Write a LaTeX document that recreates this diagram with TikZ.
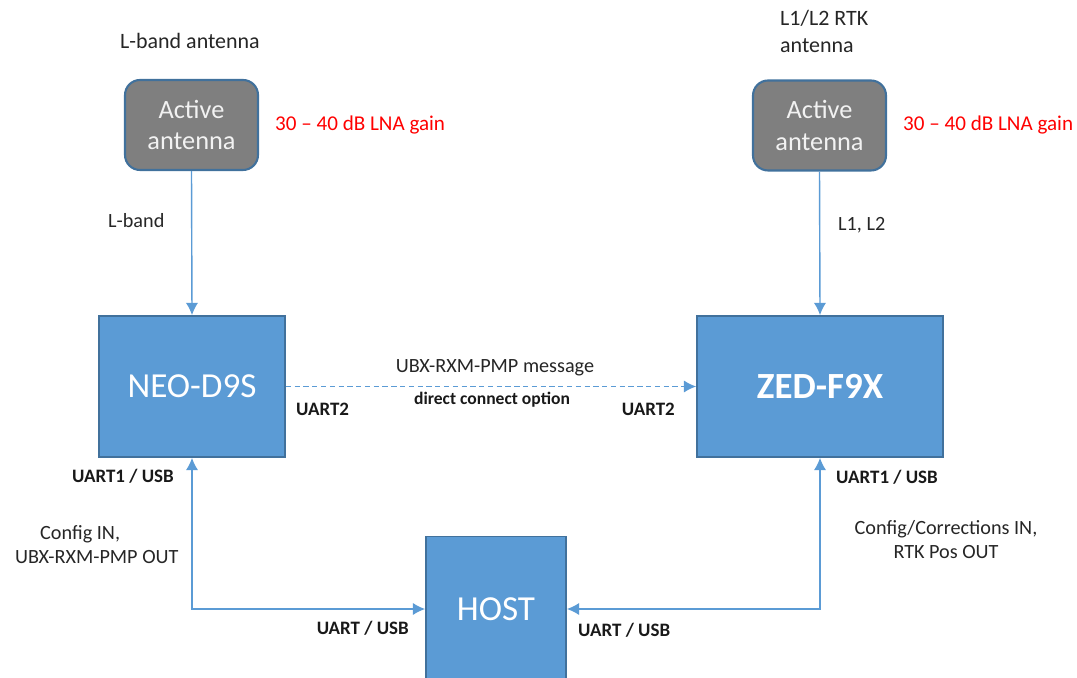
\documentclass[tikz,border=0pt]{standalone}
\usepackage{fontspec}
\setmainfont{Carlito}
\usetikzlibrary{arrows.meta}
\definecolor{boxblue}{HTML}{5B9BD5}
\definecolor{boxedge}{HTML}{41719C}
\definecolor{antgray}{HTML}{7F7F7F}
\tikzset{
	antenna/.style={draw=boxedge, line width=1.2pt, fill=antgray, rounded corners=0.3cm,
		minimum width=2.66cm, minimum height=1.8cm, text=white!95!black, align=center,
		font=\fontsize{15}{18}\selectfont},
	module/.style={draw=boxedge, line width=1pt, fill=boxblue, text=white, minimum height=2.82cm},
	link/.style={draw=boxblue, line width=0.8pt, -{Latex[length=7pt,width=7pt]}},
	both/.style={{Latex[length=7pt,width=7pt]}-{Latex[length=7pt,width=7pt]}},
	lbl/.style={font=\fontsize{11.5}{13.6}\selectfont, text=black!85},
	port/.style={font=\fontsize{10.8}{13}\selectfont\bfseries, text=black!90},
	gain/.style={font=\fontsize{12}{14}\selectfont, text=red, anchor=west},
}

\begin{document}
\begin{tikzpicture}[x=0.02cm, y=-0.02cm]
			\clip (0,0) rectangle (1077,678);
			\node[antenna] (antL) at (191.5,125) {Active\\antenna};
			\node[antenna] (antR) at (819.5,125.5) {Active\\antenna};
			\node[module, minimum width=3.72cm, font=\fontsize{20}{24}\selectfont] (neo) at (192,386.5) {NEO-D9S};
			\node[module, minimum width=4.92cm, font=\fontsize{21}{25}\selectfont\bfseries] (zed) at (820,386.5) {ZED-F9X};
			\node[module, minimum width=2.8cm, minimum height=2.9cm, font=\fontsize{20}{24}\selectfont] (host) at (496,609) {HOST};
			\node[lbl, font=\fontsize{12.5}{15.3}\selectfont] (antLname) at (190,41) {L-band antenna};
			\node[lbl, font=\fontsize{12.5}{15.3}\selectfont, anchor=west, align=left] (antRname) at (774,31.5) {L1/L2 RTK\\antenna};
			\node[gain] (gainL) at (269,125) {30 – 40 dB LNA gain};
			\node[gain] (gainR) at (897,125) {30 – 40 dB LNA gain};
			\node[lbl, anchor=west] (bandL) at (102,221) {L-band};
			\node[lbl, anchor=west] (bandR) at (832,225) {L1, L2};
			\node[lbl] (pmp) at (495,368) {UBX-RXM-PMP message};
			\node[port, font=\fontsize{10}{12}\selectfont\bfseries] (direct) at (492,400) {direct connect option};
			\node[port, anchor=west] (uartL) at (290,409) {UART2};
			\node[port, anchor=east] (uartR) at (681,409) {UART2};
			\node[port, anchor=east] (usbL) at (180,476) {UART1 / USB};
			\node[port, anchor=west] (usbR) at (830,477) {UART1 / USB};
			\node[lbl, align=left, anchor=west] (cfgL) at (9,545) {\hspace*{0.5cm}Config IN,\\UBX-RXM-PMP OUT};
			\node[lbl, align=center] (cfgR) at (946,540) {Config/Corrections IN,\\RTK Pos OUT};
			\node[port, anchor=east] (hostL) at (415,628) {UART / USB};
			\node[port, anchor=west] (hostR) at (572,630) {UART / USB};
			\draw[link] (antL.south) -- (neo.north);
			\draw[link] (antR.south) -- (zed.north);
			\draw[link, dash pattern=on 3pt off 2pt] (neo.east) -- (zed.west);
			\draw[link, both] (neo.south) |- (host.west);
			\draw[link, both] (zed.south) |- (host.east);
			%\draw[link] (host.north) -- (neo);
\end{tikzpicture}
\end{document}
